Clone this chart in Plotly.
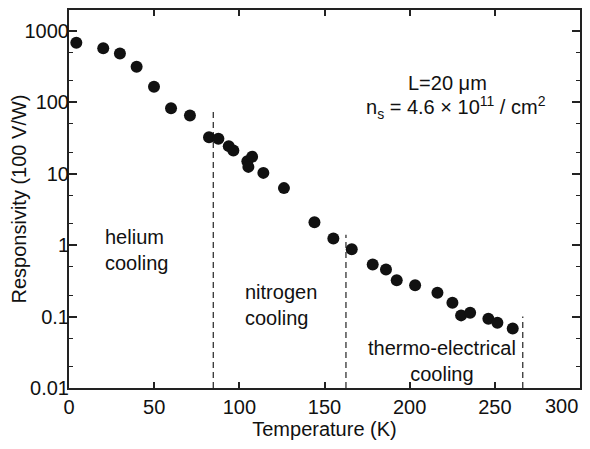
import plotly.graph_objects as go

temperature = [4.3, 20.1, 29.9, 39.7, 49.9, 59.9, 71.0, 82.2, 87.7, 93.8, 96.5, 104.7, 107.5, 105.3,
               114.1, 126.2, 144.1, 155.2, 166.0, 178.3, 186.1, 192.4, 203.2, 216.3, 225.1, 230.2,
               235.5, 246.2, 251.5, 260.5]
responsivity = [684, 574, 484, 315, 165, 83, 65.5, 32.6, 30.9, 24.4, 21.2, 15.0, 17.3, 12.5,
                10.3, 6.3, 2.1, 1.24, 0.88, 0.537, 0.457, 0.324, 0.275, 0.216, 0.156, 0.104,
                0.113, 0.093, 0.082, 0.068]

boundary_temps = [84.7, 162.6, 266.4]
boundary_tops = [80, 1.4, 0.1]
boundary_bottom = 0.01

x_ticks = [0, 50, 100, 150, 200, 250, 300]
x_tick_labels = ["0", "50", "100", "150", "200", "250", ""]
last_x_label = "300"
y_ticks = [0.01, 0.1, 1, 10, 100, 1000]
y_tick_labels = ["0.01", "0.1", "1", "10", "100", "1000"]

FONT = "Liberation Sans, Arial, sans-serif"
AX = "#222222"
FS = 20

fig = go.Figure()

for xb, yt in zip(boundary_temps, boundary_tops):
    fig.add_trace(go.Scatter(x=[xb, xb], y=[boundary_bottom, yt], mode="lines",
                             line=dict(color="#222222", width=1.2, dash="6px,4px"),
                             showlegend=False, hoverinfo="skip"))

fig.add_trace(go.Scatter(x=temperature, y=responsivity, mode="markers",
                         marker=dict(size=12, color="#111111"), showlegend=False))

ann_font = dict(family=FONT, size=FS, color="#111111")
fig.add_annotation(x=0.74, y=0.808, xref="paper", yref="paper", text="L=20 μm",
                   showarrow=False, font=ann_font, xanchor="center", yanchor="middle")
fig.add_annotation(x=0.757, y=0.742, xref="paper", yref="paper",
                   text="n<sub>s</sub> = 4.6 × 10<sup>11</sup> / cm<sup>2</sup>",
                   showarrow=False, font=ann_font, xanchor="center", yanchor="middle")
fig.add_annotation(x=0.066, y=0.365, xref="paper", yref="paper", text="helium<br>cooling",
                   showarrow=False, font=ann_font, xanchor="left", align="left", yanchor="middle")
fig.add_annotation(x=0.34, y=0.22, xref="paper", yref="paper", text="nitrogen<br>cooling",
                   showarrow=False, font=ann_font, xanchor="left", align="left", yanchor="middle")
fig.add_annotation(x=0.729, y=0.071, xref="paper", yref="paper", text="thermo-electrical<br>cooling",
                   showarrow=False, font=ann_font, xanchor="center", align="center", yanchor="middle")
fig.add_annotation(x=x_ticks[-1], y=0, xref="x", yref="paper", text=last_x_label,
                   showarrow=False, font=ann_font, xanchor="right", yanchor="top", yshift=-5)

# the page body has an 8px default margin, so the figure is sized to fit within the window
fig.update_layout(
    width=582, height=441,
    margin=dict(l=61, r=10, t=2, b=61),
    plot_bgcolor="white", paper_bgcolor="white",
    font=dict(family=FONT, size=FS, color="#111111"),
    xaxis=dict(range=[0, 300], tickvals=x_ticks, ticktext=x_tick_labels, ticks="inside",
               ticklen=6, tickwidth=1.5, automargin=False,
               tickcolor=AX, showline=True, linecolor=AX, linewidth=2, mirror="ticks",
               showgrid=False, zeroline=False, tickfont=dict(size=FS),
               title=dict(text="Temperature (K)", font=dict(size=FS), standoff=4)),
    yaxis=dict(type="log", range=[-2, 3.294], tickvals=y_ticks, ticktext=y_tick_labels,
               ticks="inside", ticklen=8, tickwidth=1.5, tickcolor=AX, automargin=False,
               ticklabelstandoff=-6,
               showline=True, linecolor=AX, linewidth=2, mirror="ticks",
               showgrid=False, zeroline=False, tickfont=dict(size=FS),
               minor=dict(ticks="inside", ticklen=4, tickcolor=AX, tickwidth=1, showgrid=False),
               title=dict(text="Responsivity (100 V/W)", font=dict(size=FS), standoff=4)),
)

fig.write_html("out.html")
